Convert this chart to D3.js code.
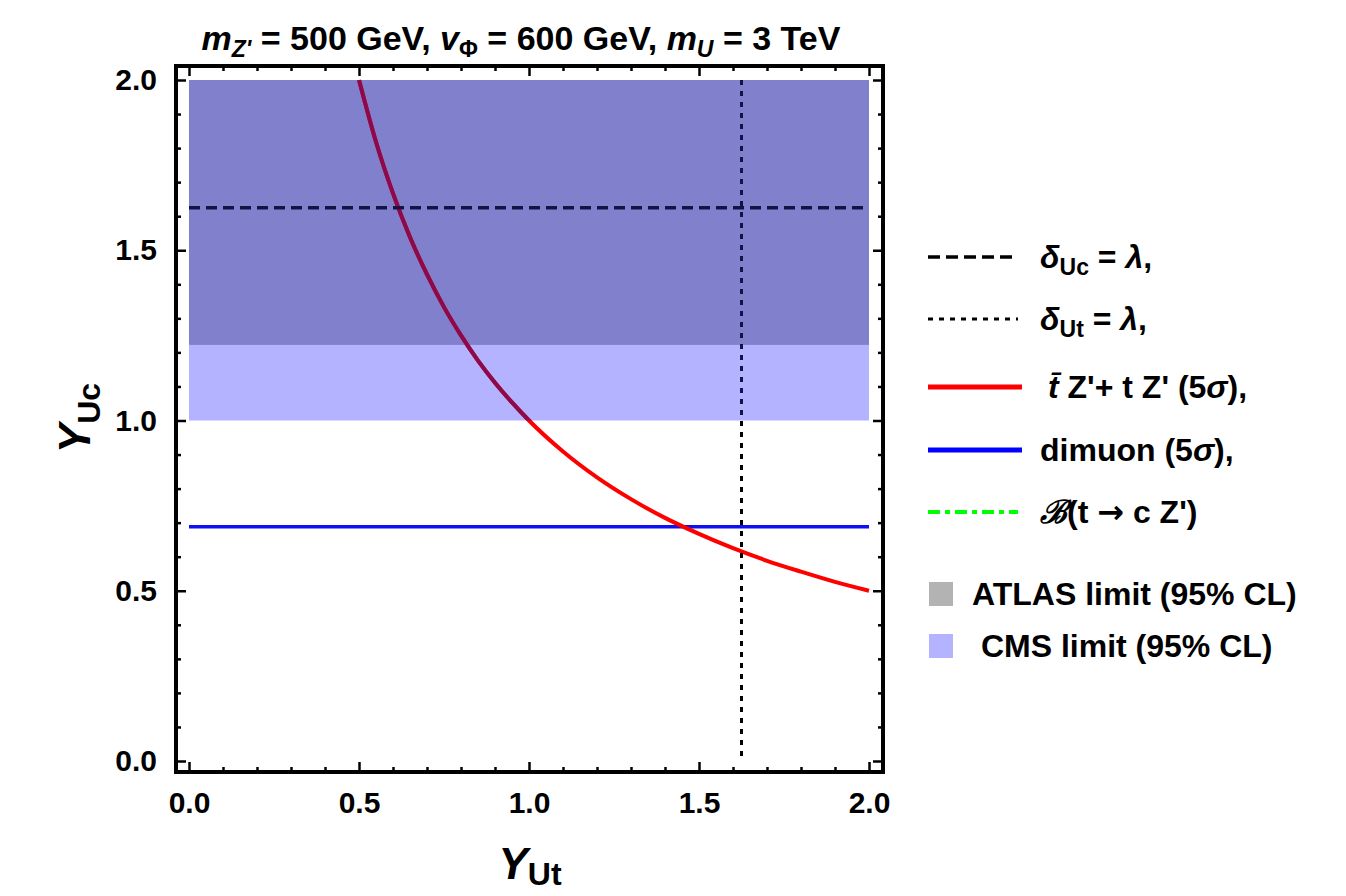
<!DOCTYPE html>
<html><head><meta charset="utf-8">
<script src="https://cdn.jsdelivr.net/npm/d3@7"></script>
<style>
html,body{margin:0;padding:0;background:#fff;}
svg text{font-family:"Liberation Sans",Arial,sans-serif;font-weight:bold;}
</style></head>
<body><svg id="c" width="1346" height="896"></svg>
<script>
// ---- data ----
const curveX = [0.50,0.55,0.60,0.65,0.70,0.75,0.80,0.85,0.90,0.95,1.00,1.10,1.20,1.30,1.40,1.50,1.60,1.70,1.80,1.90,2.00];
const curveY = [2.000,1.818,1.667,1.538,1.429,1.333,1.250,1.176,1.111,1.053,1.000,0.909,0.833,0.769,0.714,0.667,0.625,0.588,0.556,0.526,0.500];
const dimuonY = 0.688;          // dimuon 5 sigma, horizontal
const deltaUcY = 1.625;         // delta_Uc = lambda, horizontal dashed
const deltaUtX = 1.625;         // delta_Ut = lambda, vertical dotted
const cmsBand = [1.0, 2.0];     // CMS excluded Y_Uc range
const atlasBand = [1.222, 2.0]; // ATLAS excluded Y_Uc range
const xRange = [0, 2];
const majorTicks = [0.0, 0.5, 1.0, 1.5, 2.0];
const tickLabels = ["0.0","0.5","1.0","1.5","2.0"];
const legendLines = ["dashed","dotted","red","blue","green"];
const legendBoxes = ["ATLAS limit (95% CL)", " CMS limit (95% CL)"];

const svg = d3.select("#c");
const x = d3.scaleLinear().domain([0,2]).range([189,869]);
const y = d3.scaleLinear().domain([0,2]).range([761,80]);
const F = {l:176, r:883, t:66, b:772};
const minorTicks = d3.range(0,21).map(i=>i/10).filter(v=>Math.abs(v*2-Math.round(v*2))>1e-6);

// shaded bands
svg.append("rect").attr("x",x(xRange[0])).attr("width",x(xRange[1])-x(xRange[0]))
  .attr("y",y(cmsBand[1])).attr("height",y(cmsBand[0])-y(cmsBand[1])).attr("fill","#b3b3ff");
svg.append("rect").attr("x",x(xRange[0])).attr("width",x(xRange[1])-x(xRange[0]))
  .attr("y",y(atlasBand[1])).attr("height",y(atlasBand[0])-y(atlasBand[1])).attr("fill","#8080cc");

svg.append("defs").append("clipPath").attr("id","shade").append("rect")
  .attr("x",x(0)).attr("width",x(2)-x(0)).attr("y",y(cmsBand[1])).attr("height",y(cmsBand[0])-y(cmsBand[1]));

const pts = curveX.map((v,i)=>[v,curveY[i]]);
const line = d3.line().x(d=>x(d[0])).y(d=>y(d[1])).curve(d3.curveMonotoneX);

function drawLines(g, tint){
  g.append("line").attr("x1",x(0)).attr("x2",x(2)).attr("y1",y(dimuonY)).attr("y2",y(dimuonY))
    .attr("stroke","#1010f0").attr("stroke-width",3.5);
  g.append("path").attr("d",line(pts)).attr("fill","none")
    .attr("stroke",tint?"#8a0a4e":"#ff0000").attr("stroke-width",4);
  g.append("line").attr("x1",x(deltaUtX)).attr("x2",x(deltaUtX)).attr("y1",y(2)).attr("y2",y(0.015))
    .attr("stroke",tint?"#12124a":"#000").attr("stroke-width",3).attr("stroke-dasharray","5,6");
  g.append("line").attr("x1",x(0)).attr("x2",x(2)).attr("y1",y(deltaUcY)).attr("y2",y(deltaUcY))
    .attr("stroke",tint?"#12124a":"#000").attr("stroke-width",3).attr("stroke-dasharray","11,6");
}
drawLines(svg.append("g"), false);
drawLines(svg.append("g").attr("clip-path","url(#shade)"), true);

// axes (frame ticks inward)
function ax(gen, tx, ty, vals, size, labels, pad){
  const a = gen.tickValues(vals).tickSize(size).tickPadding(pad||0)
    .tickFormat(labels ? (d,i)=>labels[i] : ()=>"");
  const g = svg.append("g").attr("transform",`translate(${tx},${ty})`).call(a);
  g.select(".domain").remove();
  g.selectAll(".tick line").attr("stroke","#000").attr("stroke-width",2.5);
  g.selectAll("text").attr("font-size",30).attr("fill","#000")
    .style("font-family","'Liberation Sans',Arial,sans-serif").style("font-weight","bold");
  return g;
}
ax(d3.axisBottom(x),0,F.b,majorTicks,-10,tickLabels,20);
ax(d3.axisBottom(x),0,F.b,minorTicks,-5);
ax(d3.axisTop(x),0,F.t,majorTicks,-10);
ax(d3.axisTop(x),0,F.t,minorTicks,-5);
ax(d3.axisLeft(y),F.l,0,majorTicks,-10,tickLabels,19);
ax(d3.axisLeft(y),F.l,0,minorTicks,-5);
ax(d3.axisRight(y),F.r,0,majorTicks,-10);
ax(d3.axisRight(y),F.r,0,minorTicks,-5);

svg.append("rect").attr("x",F.l).attr("y",F.t).attr("width",F.r-F.l).attr("height",F.b-F.t)
  .attr("fill","none").attr("stroke","#000").attr("stroke-width",4);

// title
const title = svg.append("text").attr("x",521).attr("y",50).attr("text-anchor","middle")
  .attr("font-size",34).style("font-family","'Liberation Sans Narrow','Liberation Sans',sans-serif");
title.append("tspan").attr("font-style","italic").text("m");
title.append("tspan").attr("font-style","italic").attr("font-size",23).attr("dy",7).text("Z'");
title.append("tspan").attr("dy",-7).text(" = 500 GeV, ");
title.append("tspan").attr("font-style","italic").text("v");
title.append("tspan").attr("font-size",23).attr("dy",7).text("Φ");
title.append("tspan").attr("dy",-7).text(" = 600 GeV, ");
title.append("tspan").attr("font-style","italic").text("m");
title.append("tspan").attr("font-style","italic").attr("font-size",23).attr("dy",7).text("U");
title.append("tspan").attr("dy",-7).text(" = 3 TeV");

// axis labels
const xl = svg.append("text").attr("x",530).attr("y",879).attr("text-anchor","middle");
xl.append("tspan").attr("font-style","italic").attr("font-size",44).text("Y");
xl.append("tspan").attr("font-size",32).attr("dy",6).text("Ut");
const yl = svg.append("text").attr("transform","translate(90,418) rotate(-90)").attr("text-anchor","middle");
yl.append("tspan").attr("font-style","italic").attr("font-size",44).text("Y");
yl.append("tspan").attr("font-size",32).attr("dy",10).text("Uc");

// legend
const rowsY = [257,319,387,450,512];
const LX1 = 928, LX2 = 1018, TX = 1040;
const lg = svg.append("g");
const styles = {
  dashed:{stroke:"#000",w:3.5,dash:"12,6"},
  dotted:{stroke:"#000",w:3,dash:"5,6"},
  red:{stroke:"#ff0000",w:5,dash:null},
  blue:{stroke:"#0000ff",w:5,dash:null},
  green:{stroke:"#00ff00",w:4,dash:"12,5,5,5"}
};
legendLines.forEach((k,i)=>{
  const s = styles[k];
  lg.append("line").attr("x1",LX1).attr("x2",k==="red"||k==="blue"?1022:LX2)
    .attr("y1",rowsY[i]).attr("y2",rowsY[i]).attr("stroke",s.stroke).attr("stroke-width",s.w)
    .attr("stroke-dasharray",s.dash);
});
function ltext(i){ return lg.append("text").attr("x",TX).attr("y",rowsY[i]+11).attr("font-size",32); }
let t = ltext(0);
t.append("tspan").attr("font-style","italic").text("δ");
t.append("tspan").attr("font-size",23).attr("dy",7).text("Uc");
t.append("tspan").attr("dy",-7).text(" = ");
t.append("tspan").attr("font-style","italic").text("λ");
t.append("tspan").text(",");
t = ltext(1);
t.append("tspan").attr("font-style","italic").text("δ");
t.append("tspan").attr("font-size",23).attr("dy",7).text("Ut");
t.append("tspan").attr("dy",-7).text(" = ");
t.append("tspan").attr("font-style","italic").text("λ");
t.append("tspan").text(",");
t = ltext(2).attr("x",1048);
t.append("tspan").attr("font-style","italic").text("t\u0304");
t.append("tspan").text(" Z'+ t Z' (5");
t.append("tspan").attr("font-style","italic").text("σ");
t.append("tspan").text("),");
t = ltext(3);
t.append("tspan").text("dimuon (5");
t.append("tspan").attr("font-style","italic").text("σ");
t.append("tspan").text("),");
t = ltext(4);
t.append("tspan").style("font-family","'DejaVu Serif',serif").attr("font-style","italic").text("ℬ");
t.append("tspan").text("(t ");
t.append("tspan").style("font-family","'DejaVu Sans',sans-serif").text("→");
t.append("tspan").text(" c Z')");

const boxY = [582,634], boxC = ["#b3b3b3","#b3b3ff"];
legendBoxes.forEach((s,i)=>{
  lg.append("rect").attr("x",929).attr("y",boxY[i]).attr("width",24).attr("height",24).attr("fill",boxC[i]);
  lg.append("text").attr("x",972).attr("y",boxY[i]+23).attr("font-size",32).attr("xml:space","preserve")
    .style("white-space","pre").text(s);
});
</script></body></html>
